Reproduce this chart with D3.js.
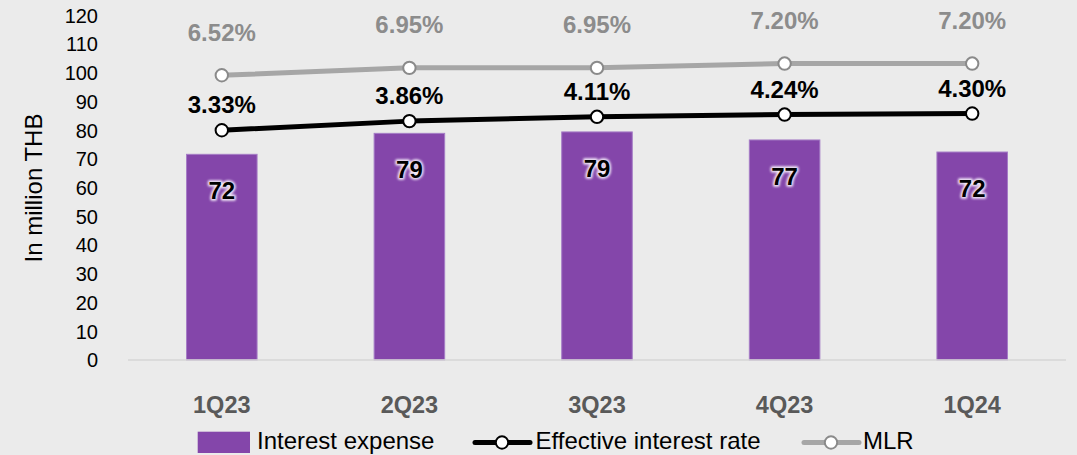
<!DOCTYPE html>
<html>
<head>
<meta charset="utf-8">
<script src="https://cdn.jsdelivr.net/npm/d3@7"></script>
<style>
  html, body { margin: 0; padding: 0; background: #ebebeb; }
  svg { display: block; font-family: "Liberation Sans", Arial, sans-serif; }
</style>
</head>
<body>
<svg id="chart" width="1077" height="455"></svg>
<script>
// ---- data ----
const categories = ["1Q23", "2Q23", "3Q23", "4Q23", "1Q24"];
const interestExpense = [71.6, 78.9, 79.4, 76.6, 72.4];
const interestExpenseLabels = ["72", "79", "79", "77", "72"];
const effectiveRate = [3.33, 3.86, 4.11, 4.24, 4.30];
const mlr = [6.52, 6.95, 6.95, 7.20, 7.20];
const yTicks = [0, 10, 20, 30, 40, 50, 60, 70, 80, 90, 100, 110, 120];
const legendLabels = ["Interest expense", "Effective interest rate", "MLR"];

// ---- chart ----
const W = 1077, H = 455;
const svg = d3.select("#chart");
svg.append("rect").attr("width", W).attr("height", H).attr("fill", "#ebebeb");

const defs = svg.append("defs");
defs.append("filter").attr("id", "blur").attr("x", "-30%").attr("y", "-30%").attr("width", "160%").attr("height", "160%")
  .append("feGaussianBlur").attr("stdDeviation", 1.3);

const x = d3.scaleBand().domain(categories).range([128, 1066]).paddingInner(0.624).paddingOuter(0.312);
const y = d3.scaleLinear().domain([0, 120]).range([360, 15.3]);
const y2 = d3.scaleLinear().domain([-10, 10]).range([360, 15.3]);
const cx = d => x(d) + x.bandwidth() / 2;

// y axis (no line, no ticks)
const yAxis = svg.append("g").attr("transform", "translate(98,0)")
  .call(d3.axisLeft(y).tickValues(yTicks).tickSize(0).tickPadding(0));
yAxis.select(".domain").remove();
yAxis.selectAll("text").attr("font-size", 20).attr("fill", "#000")
  .attr("font-family", "Liberation Sans, Arial, sans-serif").attr("dy", "0.34em");

// y title
svg.append("text").attr("transform", "translate(41.5,188) rotate(-90)")
  .attr("text-anchor", "middle").attr("font-size", 24).attr("fill", "#000")
  .text("In million THB");

// bars
svg.append("g").selectAll("rect").data(categories).join("rect")
  .attr("x", d => x(d)).attr("width", x.bandwidth())
  .attr("y", (d, i) => y(interestExpense[i]))
  .attr("height", (d, i) => y(0) - y(interestExpense[i]))
  .attr("fill", "#8446aa").attr("stroke", "#a57cc6").attr("stroke-width", 1);

// x axis baseline
const xAxis = svg.append("g").attr("transform", "translate(0,360)")
  .call(d3.axisBottom(x).tickSize(0).tickPadding(0));
xAxis.select(".domain").attr("stroke", "#d6d6d6").attr("stroke-width", 1.5).attr("d", "M128,0H1066");
xAxis.selectAll("text").attr("font-size", 23.5).attr("font-weight", "bold").attr("fill", "#595959")
  .attr("font-family", "Liberation Sans, Arial, sans-serif").attr("y", 53.3).attr("dy", 0);

// bar labels (glow + text)
const bl = svg.append("g");
bl.selectAll("text.glow").data(categories).join("text").attr("class", "glow")
  .attr("x", d => cx(d)).attr("y", (d, i) => y(interestExpense[i]) + 45)
  .attr("text-anchor", "middle").attr("font-size", 24).attr("font-weight", "bold")
  .attr("fill", "#f1e8f8").attr("stroke", "#f1e8f8").attr("stroke-width", 3.5)
  .attr("stroke-linejoin", "round").attr("filter", "url(#blur)")
  .text((d, i) => interestExpenseLabels[i]);
bl.selectAll("text.lbl").data(categories).join("text").attr("class", "lbl")
  .attr("x", d => cx(d)).attr("y", (d, i) => y(interestExpense[i]) + 45)
  .attr("text-anchor", "middle").attr("font-size", 24).attr("font-weight", "bold")
  .attr("fill", "#000")
  .text((d, i) => interestExpenseLabels[i]);

// lines
const line = d3.line().x(d => cx(d[0])).y(d => y2(d[1]));
function drawSeries(vals, color, markerStroke, labelColor, labelOffset) {
  const pts = categories.map((c, i) => [c, vals[i]]);
  svg.append("path").datum(pts).attr("d", line).attr("fill", "none")
    .attr("stroke", color).attr("stroke-width", 5).attr("stroke-linejoin", "round");
  svg.append("g").selectAll("circle").data(pts).join("circle")
    .attr("cx", d => cx(d[0])).attr("cy", d => y2(d[1])).attr("r", 6.2)
    .attr("fill", "#fff").attr("stroke", markerStroke).attr("stroke-width", 2);
  svg.append("g").selectAll("text").data(pts).join("text")
    .attr("x", d => cx(d[0])).attr("y", d => y2(d[1]) - labelOffset)
    .attr("text-anchor", "middle").attr("font-size", 24).attr("font-weight", "bold")
    .attr("fill", labelColor).text(d => d[1].toFixed(2) + "%");
}
drawSeries(mlr, "#a6a6a6", "#8a8a8a", "#8c8c8c", 34.5);
drawSeries(effectiveRate, "#000", "#000", "#000", 17);

// legend
const lg = svg.append("g");
lg.append("rect").attr("x", 197.7).attr("y", 431.7).attr("width", 52.3).attr("height", 21.3).attr("fill", "#8446aa");
lg.append("text").attr("x", 257).attr("y", 448.5).attr("font-size", 24).attr("fill", "#000").text(legendLabels[0]);

lg.append("line").attr("x1", 475).attr("x2", 530).attr("y1", 442.5).attr("y2", 442.5)
  .attr("stroke", "#000").attr("stroke-width", 5).attr("stroke-linecap", "round");
lg.append("circle").attr("cx", 502).attr("cy", 442.5).attr("r", 6.2).attr("fill", "#fff").attr("stroke", "#000").attr("stroke-width", 2);
lg.append("text").attr("x", 535.5).attr("y", 448.5).attr("font-size", 24).attr("fill", "#000").text(legendLabels[1]);

lg.append("line").attr("x1", 804).attr("x2", 859).attr("y1", 442.5).attr("y2", 442.5)
  .attr("stroke", "#a6a6a6").attr("stroke-width", 5).attr("stroke-linecap", "round");
lg.append("circle").attr("cx", 831).attr("cy", 442.5).attr("r", 6.2).attr("fill", "#fff").attr("stroke", "#8a8a8a").attr("stroke-width", 2);
lg.append("text").attr("x", 863).attr("y", 448.5).attr("font-size", 24).attr("fill", "#000").text(legendLabels[2]);
</script>
</body>
</html>
